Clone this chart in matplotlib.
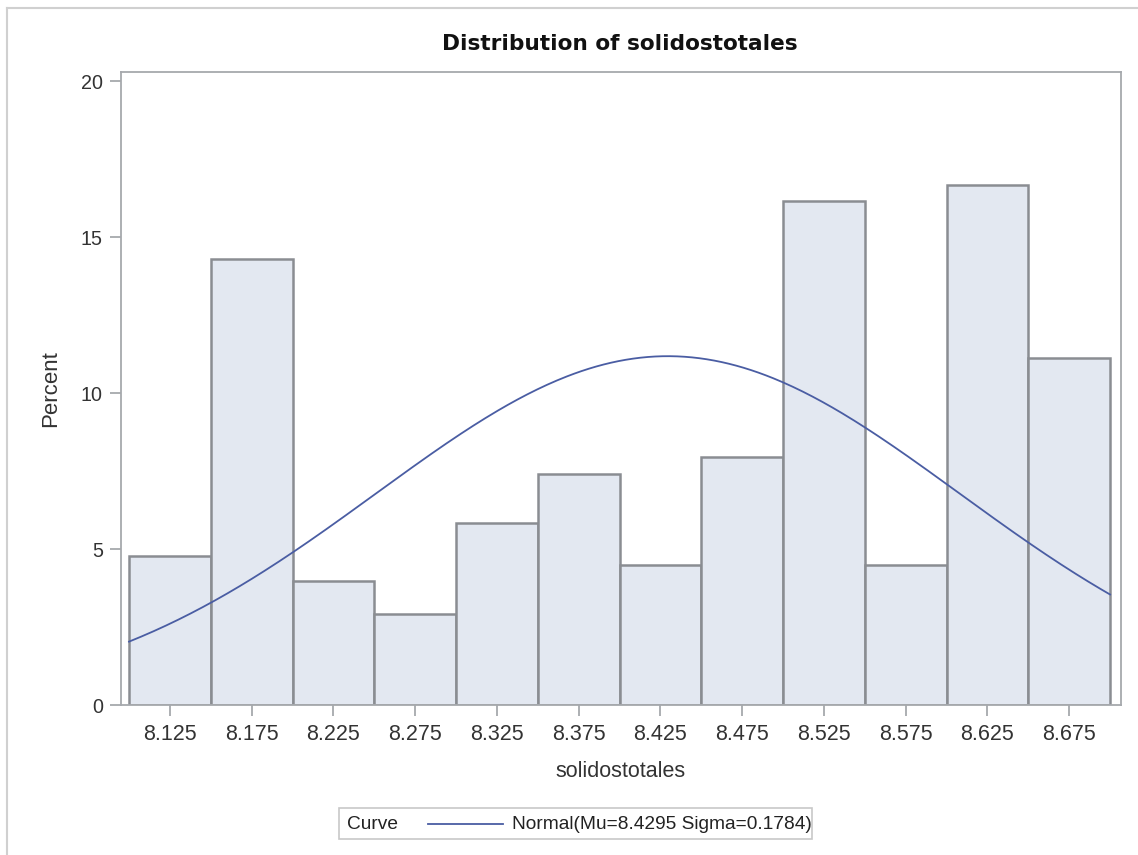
import numpy as np
import matplotlib
matplotlib.use("Agg")
import matplotlib.pyplot as plt
from matplotlib.patches import Rectangle
from matplotlib.lines import Line2D

plt.rcParams["font.family"] = ["Liberation Sans", "DejaVu Sans"]

# histogram data (percent per bin)
midpoints = [8.125, 8.175, 8.225, 8.275, 8.325, 8.375, 8.425, 8.475, 8.525, 8.575, 8.625, 8.675]
percent = [4.76, 14.29, 3.97, 2.91, 5.82, 7.41, 4.50, 7.94, 16.14, 4.50, 16.67, 11.11]
bin_width = 0.05
mu = 8.4295
sigma = 0.1784
y_ticks = [0, 5, 10, 15, 20]

W, H = 1138, 855
fig = plt.figure(figsize=(W / 100, H / 100), dpi=100)
ax = fig.add_axes([121 / W, 1 - 705 / H, 1000 / W, 633 / H])

bar_fill = "#e3e8f1"
bar_edge = "#8a8d92"
ax.bar(midpoints, percent, width=bin_width, color=bar_fill, edgecolor=bar_edge,
       linewidth=1.8, zorder=2)

# fitted normal curve, scaled to percent of bin width
lo = midpoints[0] - bin_width / 2
hi = midpoints[-1] + bin_width / 2
xs = np.linspace(lo, hi, 400)
ys = 100 * bin_width * np.exp(-0.5 * ((xs - mu) / sigma) ** 2) / (sigma * np.sqrt(2 * np.pi))
curve_color = "#4a5da3"
ax.plot(xs, ys, color=curve_color, linewidth=1.3, zorder=3)

ax.set_xlim(8.0951, 8.7067)
ax.set_ylim(0, 20.29)
ax.set_xticks(midpoints)
ax.set_xticklabels([f"{m:.3f}" for m in midpoints])
ax.set_yticks(y_ticks)

frame_color = "#a6a9ad"
for s in ax.spines.values():
    s.set_color(frame_color)
    s.set_linewidth(1.3)
ax.tick_params(axis="both", colors=frame_color, labelcolor="#333333",
               length=8, width=1.3, pad=5)
ax.tick_params(axis="x", labelsize=15.5, pad=6)
ax.tick_params(axis="y", labelsize=14.2)

ax.set_xlabel("solidostotales", fontsize=15.5, color="#333333", labelpad=11)
ax.set_ylabel("Percent", fontsize=16, color="#333333", labelpad=14)
fig.text(620 / W, 1 - 44 / H, "Distribution of solidostotales", ha="center", va="center",
         fontsize=15.6, fontweight="bold", family="DejaVu Sans", color="#111111")

# legend box built by hand
fig.patches.append(Rectangle((339 / W, 1 - 839 / H), 473 / W, 31 / H,
                             transform=fig.transFigure, facecolor="white",
                             edgecolor="#c8c8c8", linewidth=1.2))
fig.text(347 / W, 1 - 824 / H, "Curve", ha="left", va="center", fontsize=13.8, color="#222222")
fig.lines.append(Line2D([428 / W, 503 / W], [1 - 824 / H, 1 - 824 / H],
                        transform=fig.transFigure, color=curve_color, linewidth=1.3))
fig.text(512 / W, 1 - 824 / H, f"Normal(Mu={mu} Sigma={sigma})", ha="left", va="center",
         fontsize=13.8, color="#222222")

# outer graph border (left and top visible)
fig.lines.append(Line2D([7 / W, 7 / W], [0, 1 - 8 / H], transform=fig.transFigure,
                        color="#d0d0d0", linewidth=1.5))
fig.lines.append(Line2D([7 / W, 1], [1 - 8 / H, 1 - 8 / H], transform=fig.transFigure,
                        color="#d0d0d0", linewidth=1.5))

fig.savefig("out.png", dpi=100)
